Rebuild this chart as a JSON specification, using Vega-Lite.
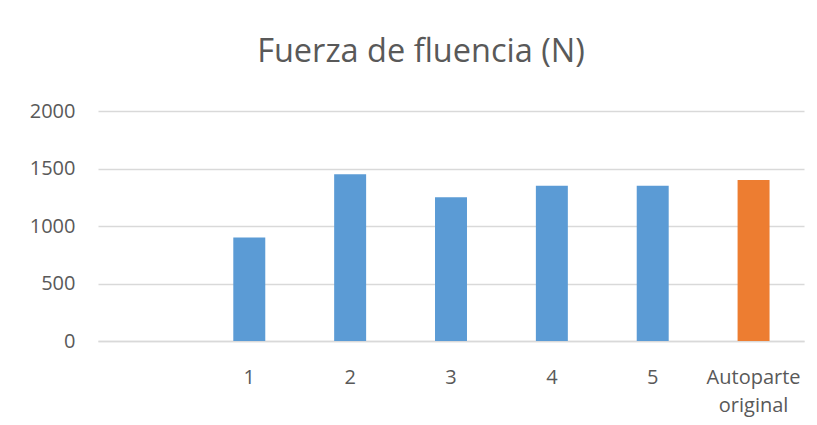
{
  "$schema": "https://vega.github.io/schema/vega-lite/v6.json",
  "width": 706,
  "height": 230,
  "autosize": {"type": "none"},
  "padding": {"left": 98, "top": 111, "right": 13, "bottom": 84},
  "background": "white",
  "title": {
    "text": "Fuerza de fluencia (N)",
    "frame": "group",
    "anchor": "middle",
    "dx": -30,
    "offset": 7,
    "baseline": "alphabetic",
    "font": "Open Sans",
    "fontSize": 32.5,
    "fontWeight": "normal",
    "color": "#595959"
  },
  "config": {
    "view": {"stroke": null},
    "axis": {
      "labelFont": "Open Sans",
      "labelFontSize": 20,
      "labelColor": "#595959",
      "ticks": false,
      "title": null
    }
  },
  "data": {
    "values": [
      {"muestra": "1", "fuerza": 900, "grupo": "prueba"},
      {"muestra": "2", "fuerza": 1450, "grupo": "prueba"},
      {"muestra": "3", "fuerza": 1250, "grupo": "prueba"},
      {"muestra": "4", "fuerza": 1350, "grupo": "prueba"},
      {"muestra": "5", "fuerza": 1350, "grupo": "prueba"},
      {"muestra": "Autoparte original", "fuerza": 1400, "grupo": "original"}
    ]
  },
  "mark": {"type": "bar"},
  "encoding": {
    "x": {
      "field": "muestra",
      "type": "nominal",
      "sort": null,
      "scale": {
        "domain": [" ", "1", "2", "3", "4", "5", "Autoparte original"],
        "paddingInner": 0.683,
        "paddingOuter": 0.3415
      },
      "axis": {
        "labelAngle": 0,
        "labelPadding": 26,
        "labelExpr": "split(datum.label, ' ')",
        "labelLineHeight": 28,
        "labelOverlap": false,
        "labelLimit": 200,
        "domainColor": "#d9d9d9",
        "domainWidth": 1.5
      }
    },
    "y": {
      "field": "fuerza",
      "type": "quantitative",
      "scale": {"domain": [0, 2000], "nice": false},
      "axis": {
        "values": [0, 500, 1000, 1500, 2000],
        "format": "d",
        "domain": false,
        "labelPadding": 23,
        "gridColor": "#d9d9d9",
        "gridWidth": 1.5
      }
    },
    "color": {
      "field": "grupo",
      "type": "nominal",
      "scale": {"domain": ["prueba", "original"], "range": ["#5b9bd5", "#ed7d31"]},
      "legend": null
    }
  }
}
